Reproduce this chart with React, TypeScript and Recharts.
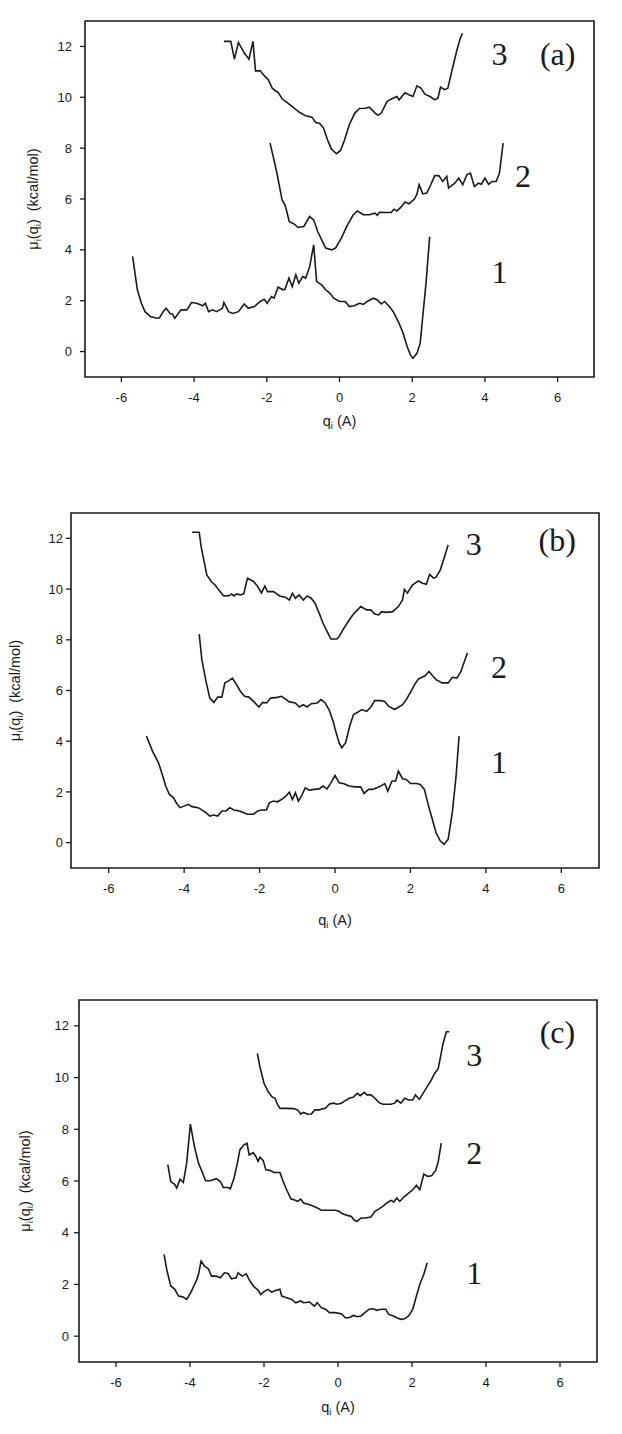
import { LineChart, Line, XAxis, YAxis, ReferenceArea, ReferenceDot, Label } from "recharts";

type Pt = [number, number];

const X_TICKS = [-6, -4, -2, 0, 2, 4, 6];
const Y_TICKS = [0, 2, 4, 6, 8, 10, 12];
const CURVE_NAMES = ["1", "2", "3"];

// panel (a)
const a1: Pt[] = [
  [-5.69, 3.74], [-5.56, 2.43], [-5.45, 1.9], [-5.35, 1.57], [-5.2, 1.38], [-5.02, 1.31], [-4.95, 1.33],
  [-4.85, 1.57], [-4.77, 1.7], [-4.66, 1.5], [-4.6, 1.48], [-4.53, 1.31], [-4.36, 1.64], [-4.2, 1.64],
  [-4.07, 1.93], [-3.93, 1.9], [-3.76, 1.8], [-3.69, 1.9], [-3.6, 1.57], [-3.49, 1.64], [-3.38, 1.57],
  [-3.22, 1.7], [-3.18, 1.93], [-3.05, 1.57], [-2.94, 1.5], [-2.78, 1.57], [-2.62, 1.87], [-2.51, 1.7],
  [-2.34, 1.77], [-2.18, 1.97], [-2.07, 2.06], [-1.99, 1.9], [-1.87, 2.16], [-1.8, 2.1], [-1.69, 2.53],
  [-1.55, 2.43], [-1.5, 2.45], [-1.39, 2.89], [-1.3, 2.56], [-1.2, 3.02], [-1.12, 2.69], [-1.01, 2.95],
  [-0.93, 2.89], [-0.82, 3.34], [-0.71, 4.2], [-0.63, 2.75], [-0.49, 2.62], [-0.38, 2.43], [-0.27, 2.3],
  [-0.16, 2.1], [0, 1.97], [0.16, 1.97], [0.27, 1.77], [0.4, 1.8], [0.55, 1.9], [0.66, 1.86], [0.76, 1.97],
  [0.93, 2.1], [1.04, 2.03], [1.15, 1.87], [1.24, 1.97], [1.37, 1.77], [1.48, 1.57], [1.64, 1.11],
  [1.75, 0.72], [1.86, 0.2], [1.95, -0.13], [2.02, -0.26], [2.13, -0.07], [2.22, 0.33], [2.29, 1.38],
  [2.38, 2.69], [2.48, 4.52],
];
const a2: Pt[] = [
  [-1.91, 8.2], [-1.74, 7.15], [-1.58, 5.97], [-1.49, 5.73], [-1.38, 5.11], [-1.25, 5.02], [-1.14, 4.88],
  [-0.98, 4.92], [-0.82, 5.31], [-0.71, 5.18], [-0.6, 4.72], [-0.49, 4.39], [-0.38, 4.07], [-0.22, 4.0],
  [-0.11, 4.07], [0.05, 4.46], [0.22, 4.98], [0.38, 5.38], [0.49, 5.53], [0.66, 5.38], [0.82, 5.38],
  [0.98, 5.44], [1.04, 5.36], [1.1, 5.48], [1.26, 5.47], [1.42, 5.47], [1.5, 5.6], [1.58, 5.53],
  [1.69, 5.68], [1.8, 5.88], [1.91, 5.81], [2.06, 6.0], [2.13, 6.19], [2.19, 6.56], [2.29, 6.2],
  [2.4, 6.23], [2.51, 6.56], [2.62, 6.92], [2.73, 6.92], [2.84, 6.69], [2.95, 6.89], [3.0, 6.43],
  [3.17, 6.62], [3.28, 6.82], [3.39, 6.56], [3.5, 6.95], [3.6, 7.02], [3.71, 6.49], [3.82, 6.62],
  [3.9, 6.58], [4.0, 6.82], [4.1, 6.58], [4.2, 6.69], [4.31, 6.69], [4.4, 7.02], [4.5, 8.2],
];
const a3: Pt[] = [
  [-3.18, 12.2], [-2.99, 12.2], [-2.89, 11.5], [-2.78, 12.16], [-2.62, 11.74], [-2.49, 11.5], [-2.38, 12.2],
  [-2.31, 11.04], [-2.18, 11.04], [-2.07, 10.85], [-1.96, 10.69], [-1.85, 10.36], [-1.74, 10.23],
  [-1.69, 10.2], [-1.58, 9.94], [-1.42, 9.77], [-1.25, 9.57], [-1.09, 9.4], [-0.93, 9.27], [-0.76, 9.22],
  [-0.65, 9.01], [-0.55, 8.98], [-0.44, 8.79], [-0.33, 8.33], [-0.22, 7.96], [-0.08, 7.78], [0.03, 7.91],
  [0.14, 8.33], [0.27, 8.92], [0.42, 9.38], [0.55, 9.56], [0.71, 9.57], [0.82, 9.61], [0.98, 9.38],
  [1.06, 9.29], [1.15, 9.38], [1.31, 9.84], [1.48, 9.97], [1.58, 10.03], [1.64, 9.9], [1.8, 10.18],
  [1.91, 10.1], [2.02, 10.03], [2.13, 10.45], [2.24, 10.36], [2.35, 10.12], [2.49, 10.03], [2.62, 9.9],
  [2.71, 9.97], [2.78, 10.4], [2.89, 10.3], [2.98, 10.36], [3.11, 11.15], [3.22, 11.8], [3.31, 12.26],
  [3.38, 12.52],
];

// panel (b)
const b1: Pt[] = [
  [-5.0, 4.2], [-4.84, 3.61], [-4.68, 3.15], [-4.58, 2.69], [-4.49, 2.23], [-4.39, 1.9], [-4.28, 1.77],
  [-4.21, 1.57], [-4.11, 1.38], [-4.0, 1.44], [-3.89, 1.51], [-3.79, 1.42], [-3.63, 1.38], [-3.53, 1.29],
  [-3.42, 1.18], [-3.32, 1.05], [-3.21, 1.09], [-3.11, 1.05], [-3.0, 1.25], [-2.89, 1.25], [-2.79, 1.38],
  [-2.68, 1.29], [-2.53, 1.25], [-2.42, 1.18], [-2.32, 1.12], [-2.16, 1.12], [-2.05, 1.25], [-1.95, 1.29],
  [-1.82, 1.29], [-1.74, 1.57], [-1.63, 1.64], [-1.53, 1.61], [-1.42, 1.7], [-1.32, 1.81], [-1.21, 1.99],
  [-1.13, 1.7], [-1.05, 1.97], [-0.97, 1.64], [-0.89, 1.84], [-0.79, 2.16], [-0.68, 2.07], [-0.55, 2.1],
  [-0.42, 2.12], [-0.32, 2.23], [-0.21, 2.12], [-0.11, 2.36], [0.0, 2.65], [0.11, 2.36], [0.24, 2.32],
  [0.37, 2.23], [0.53, 2.2], [0.68, 2.2], [0.77, 1.94], [0.89, 2.1], [1.0, 2.1], [1.11, 2.16], [1.21, 2.23],
  [1.32, 2.33], [1.4, 2.03], [1.51, 2.43], [1.61, 2.43], [1.68, 2.82], [1.79, 2.52], [1.89, 2.49],
  [2.0, 2.33], [2.16, 2.33], [2.26, 2.29], [2.37, 2.1], [2.47, 1.51], [2.58, 0.92], [2.68, 0.39],
  [2.79, 0.07], [2.89, -0.07], [3.0, 0.13], [3.11, 1.18], [3.21, 2.62], [3.29, 4.2],
];
const b2: Pt[] = [
  [-3.6, 8.22], [-3.53, 7.21], [-3.42, 6.36], [-3.32, 5.7], [-3.21, 5.53], [-3.11, 5.74], [-3.0, 5.74],
  [-2.92, 6.3], [-2.81, 6.39], [-2.72, 6.49], [-2.61, 6.23], [-2.51, 5.97], [-2.4, 5.77], [-2.28, 5.74],
  [-2.16, 5.57], [-2.02, 5.35], [-1.92, 5.53], [-1.81, 5.51], [-1.71, 5.7], [-1.53, 5.73], [-1.42, 5.77],
  [-1.32, 5.67], [-1.21, 5.55], [-1.05, 5.51], [-0.95, 5.35], [-0.84, 5.44], [-0.74, 5.35], [-0.63, 5.48],
  [-0.47, 5.51], [-0.37, 5.64], [-0.26, 5.51], [-0.16, 5.25], [-0.05, 4.79], [0.03, 4.33], [0.11, 3.93],
  [0.18, 3.74], [0.28, 3.93], [0.39, 4.59], [0.49, 5.05], [0.6, 5.14], [0.71, 5.25], [0.84, 5.18],
  [0.95, 5.35], [1.05, 5.6], [1.21, 5.6], [1.32, 5.57], [1.42, 5.38], [1.58, 5.25], [1.68, 5.34],
  [1.79, 5.44], [1.89, 5.64], [2.0, 5.93], [2.11, 6.23], [2.21, 6.45], [2.32, 6.53], [2.39, 6.58],
  [2.49, 6.75], [2.6, 6.56], [2.68, 6.43], [2.84, 6.3], [3.0, 6.3], [3.11, 6.52], [3.23, 6.49],
  [3.34, 6.75], [3.4, 7.02], [3.51, 7.48],
];
const b3: Pt[] = [
  [-3.79, 12.24], [-3.6, 12.24], [-3.55, 11.67], [-3.47, 11.08], [-3.4, 10.56], [-3.28, 10.3], [-3.18, 10.16],
  [-3.05, 9.9], [-2.95, 9.73], [-2.81, 9.74], [-2.74, 9.81], [-2.68, 9.73], [-2.6, 9.81], [-2.51, 9.77],
  [-2.42, 9.81], [-2.32, 10.43], [-2.16, 10.3], [-2.05, 10.1], [-1.95, 9.84], [-1.86, 10.12], [-1.79, 9.9],
  [-1.63, 9.9], [-1.47, 9.73], [-1.32, 9.68], [-1.21, 9.57], [-1.13, 9.84], [-1.05, 9.64], [-0.95, 9.77],
  [-0.84, 9.57], [-0.74, 9.73], [-0.63, 9.64], [-0.53, 9.44], [-0.42, 9.05], [-0.32, 8.66], [-0.21, 8.33],
  [-0.11, 8.03], [0.05, 8.03], [0.11, 8.13], [0.21, 8.39], [0.35, 8.72], [0.47, 8.98], [0.58, 9.15],
  [0.68, 9.31], [0.84, 9.18], [0.95, 9.18], [1.05, 9.02], [1.16, 8.98], [1.23, 9.11], [1.37, 9.08],
  [1.53, 9.11], [1.68, 9.31], [1.79, 9.57], [1.84, 9.99], [1.92, 9.84], [2.05, 10.16], [2.21, 10.32],
  [2.32, 10.23], [2.42, 10.19], [2.51, 10.58], [2.61, 10.43], [2.68, 10.47], [2.79, 10.75], [2.89, 11.21],
  [3.0, 11.74],
];

// panel (c)
const c1: Pt[] = [
  [-4.7, 3.16], [-4.63, 2.58], [-4.52, 1.94], [-4.41, 1.81], [-4.31, 1.55], [-4.2, 1.52], [-4.09, 1.42],
  [-3.98, 1.68], [-3.82, 2.17], [-3.77, 2.39], [-3.7, 2.9], [-3.61, 2.71], [-3.5, 2.6], [-3.42, 2.32],
  [-3.29, 2.32], [-3.18, 2.26], [-3.07, 2.45], [-2.97, 2.42], [-2.88, 2.22], [-2.75, 2.26], [-2.7, 2.45],
  [-2.59, 2.32], [-2.48, 2.41], [-2.38, 2.13], [-2.27, 1.91], [-2.16, 1.78], [-2.09, 1.61], [-2.0, 1.72],
  [-1.89, 1.81], [-1.79, 1.7], [-1.68, 1.77], [-1.57, 1.81], [-1.52, 1.55], [-1.41, 1.49], [-1.25, 1.42],
  [-1.14, 1.29], [-1.01, 1.36], [-0.93, 1.29], [-0.77, 1.32], [-0.64, 1.16], [-0.56, 1.29], [-0.45, 1.1],
  [-0.34, 1.04], [-0.23, 0.91], [-0.08, 0.91], [0.09, 0.87], [0.2, 0.71], [0.3, 0.71], [0.41, 0.8],
  [0.52, 0.75], [0.62, 0.78], [0.73, 0.91], [0.84, 1.04], [0.95, 1.06], [1.05, 1.0], [1.16, 1.04],
  [1.29, 1.04], [1.37, 0.84], [1.5, 0.78], [1.59, 0.71], [1.7, 0.65], [1.8, 0.67], [1.91, 0.78],
  [2.02, 1.04], [2.12, 1.55], [2.21, 2.0], [2.32, 2.39], [2.41, 2.84],
];
const c2: Pt[] = [
  [-4.6, 6.63], [-4.52, 5.98], [-4.41, 5.86], [-4.36, 5.73], [-4.27, 6.07], [-4.18, 5.95], [-4.09, 6.69],
  [-3.99, 8.2], [-3.88, 7.33], [-3.77, 6.69], [-3.66, 6.31], [-3.58, 6.01], [-3.45, 6.01], [-3.29, 6.09],
  [-3.18, 5.98], [-3.1, 5.75], [-2.97, 5.75], [-2.91, 5.7], [-2.81, 6.11], [-2.72, 6.69], [-2.65, 7.21],
  [-2.54, 7.4], [-2.46, 7.46], [-2.4, 7.01], [-2.29, 7.1], [-2.22, 6.95], [-2.16, 6.76], [-2.11, 6.92],
  [-2.02, 6.79], [-1.95, 6.43], [-1.84, 6.41], [-1.73, 6.33], [-1.57, 6.33], [-1.5, 6.05], [-1.41, 5.73],
  [-1.27, 5.3], [-1.2, 5.28], [-1.09, 5.21], [-1.01, 5.3], [-0.93, 5.15], [-0.77, 5.08], [-0.66, 5.02],
  [-0.56, 4.96], [-0.45, 4.87], [-0.34, 4.87], [-0.21, 4.87], [-0.08, 4.87], [0.03, 4.83], [0.11, 4.74],
  [0.25, 4.67], [0.36, 4.63], [0.44, 4.48], [0.52, 4.44], [0.62, 4.57], [0.73, 4.57], [0.89, 4.61],
  [1.0, 4.83], [1.11, 4.92], [1.21, 5.02], [1.32, 5.15], [1.43, 5.25], [1.51, 5.19], [1.59, 5.34],
  [1.67, 5.21], [1.78, 5.38], [1.91, 5.53], [2.02, 5.66], [2.12, 5.83], [2.21, 5.66], [2.32, 6.27],
  [2.42, 6.18], [2.53, 6.2], [2.64, 6.41], [2.71, 6.76], [2.79, 7.46],
];
const c3: Pt[] = [
  [-2.18, 10.93], [-2.11, 10.42], [-2.0, 9.78], [-1.89, 9.46], [-1.79, 9.26], [-1.7, 9.2], [-1.63, 8.94],
  [-1.57, 8.81], [-1.41, 8.81], [-1.2, 8.8], [-1.09, 8.75], [-1.01, 8.59], [-0.93, 8.65], [-0.82, 8.58],
  [-0.72, 8.59], [-0.63, 8.75], [-0.5, 8.75], [-0.43, 8.79], [-0.34, 8.81], [-0.23, 8.98], [-0.13, 9.01],
  [-0.02, 8.97], [0.09, 9.01], [0.22, 9.13], [0.3, 9.2], [0.41, 9.24], [0.52, 9.39], [0.6, 9.3],
  [0.71, 9.43], [0.78, 9.33], [0.89, 9.33], [1.0, 9.2], [1.11, 9.03], [1.21, 8.97], [1.43, 8.97],
  [1.53, 9.01], [1.59, 9.13], [1.7, 9.01], [1.8, 9.2], [1.91, 9.13], [2.02, 9.13], [2.09, 9.33],
  [2.2, 9.16], [2.31, 9.42], [2.41, 9.65], [2.52, 9.9], [2.61, 10.16], [2.71, 10.35], [2.77, 10.8],
  [2.84, 11.32], [2.93, 11.77], [3.01, 11.77],
];

// where the "1", "2", "3" and panel tags sit, in data units
const namesAtA: Pt[] = [[4.4, 3.15], [5.05, 6.91], [4.4, 11.72]];
const namesAtB: Pt[] = [[4.35, 3.21], [4.35, 6.95], [3.68, 11.8]];
const namesAtC: Pt[] = [[3.68, 2.45], [3.68, 7.08], [3.68, 10.87]];

const SANS = "'Liberation Sans', Arial, sans-serif";
const SERIF = "'Liberation Serif', 'Times New Roman', serif";
const INK = "#1a1a1a";

interface PanelProps {
  curves: Pt[][];
  namesAt: Pt[];
  tag: string;
  tagAt: Pt;
  top: number;
  height: number;
  plotLeft: number;
  plotRight: number;
  plotTop: number;
  plotBottom: number;
  yTitleX: number;
  xTitleDy: number;
  yTickMargin: number;
}

function Panel(p: PanelProps) {
  const width = 622;
  const midX = (p.plotLeft + p.plotRight) / 2;
  const midY = (p.plotTop + p.plotBottom) / 2;

  const xTitle = () => (
    <text x={midX} y={p.plotBottom + p.xTitleDy} textAnchor="middle" dominantBaseline="central"
      fontSize={14.5} fontFamily={SANS} fill={INK}>
      q<tspan fontSize={9.5} dy={4}>i</tspan>
      <tspan dy={-4}>{"\u00a0(A)"}</tspan>
    </text>
  );

  const yTitle = () => (
    <text x={p.yTitleX} y={midY} transform={`rotate(-90 ${p.yTitleX} ${midY})`} textAnchor="middle"
      dominantBaseline="central" fontSize={14.5} fontFamily={SANS} fill={INK}>
      μ<tspan fontSize={9.5} dy={4}>i</tspan>
      <tspan dy={-4}>(q</tspan>
      <tspan fontSize={9.5} dy={4}>i</tspan>
      <tspan dy={-4}>{")\u00a0\u00a0(kcal/mol)"}</tspan>
    </text>
  );

  return (
    <div style={{ position: "absolute", left: 0, top: p.top }}>
      <LineChart width={width} height={p.height}
        margin={{ top: p.plotTop, right: width - p.plotRight, left: 0, bottom: 0 }}>
        <XAxis type="number" dataKey="x" domain={[-7, 7]} ticks={X_TICKS} allowDataOverflow
          height={p.height - p.plotBottom} axisLine={false} tickSize={5} tickMargin={11}
          tickLine={{ stroke: INK, strokeWidth: 1.3 }}
          tick={{ fill: INK, fontSize: 13, fontFamily: SANS }}>
          <Label content={xTitle} />
        </XAxis>
        <YAxis type="number" dataKey="y" domain={[-1, 13]} ticks={Y_TICKS} allowDataOverflow
          width={p.plotLeft} axisLine={false} tickSize={5} tickMargin={p.yTickMargin}
          tickLine={{ stroke: INK, strokeWidth: 1.3 }}
          tick={{ fill: INK, fontSize: 13, fontFamily: SANS }}>
          <Label content={yTitle} />
        </YAxis>
        <ReferenceArea x1={-7} x2={7} y1={-1} y2={13} fill="none" stroke={INK} strokeWidth={1.6}
          fillOpacity={0} />
        {p.curves.map((pts, i) => (
          <Line key={i} data={pts.map(([x, y]) => ({ x, y }))} dataKey="y" type="linear"
            stroke={INK} strokeWidth={1.6} dot={false} activeDot={false} isAnimationActive={false} />
        ))}
        {p.namesAt.map(([x, y], i) => (
          <ReferenceDot key={`n${i}`} x={x} y={y} r={0} fill="none" stroke="none"
            label={{ value: CURVE_NAMES[i], position: "center", fontSize: 32, fontFamily: SERIF, fill: INK }} />
        ))}
        <ReferenceDot x={p.tagAt[0]} y={p.tagAt[1]} r={0} fill="none" stroke="none"
          label={{ value: p.tag, position: "center", fontSize: 32, fontFamily: SERIF, fill: INK }} />
      </LineChart>
    </div>
  );
}

export default function App() {
  return (
    <div style={{ position: "absolute", left: 0, top: 0, width: 622, height: 1434, background: "#fff" }}>
      <Panel curves={[a1, a2, a3]} namesAt={namesAtA} tag="(a)" tagAt={[6.0, 11.7]}
        top={0} height={440} plotLeft={85} plotRight={594} plotTop={21} plotBottom={377}
        yTitleX={33} xTitleDy={44} yTickMargin={8} />
      <Panel curves={[b1, b2, b3]} namesAt={namesAtB} tag="(b)" tagAt={[5.89, 11.93]}
        top={470} height={470} plotLeft={71} plotRight={599} plotTop={43} plotBottom={398}
        yTitleX={15} xTitleDy={52} yTickMargin={3} />
      <Panel curves={[c1, c2, c3]} namesAt={namesAtC} tag="(c)" tagAt={[5.93, 11.77]}
        top={960} height={474} plotLeft={79} plotRight={597} plotTop={40} plotBottom={402}
        yTitleX={25} xTitleDy={45} yTickMargin={5} />
    </div>
  );
}
